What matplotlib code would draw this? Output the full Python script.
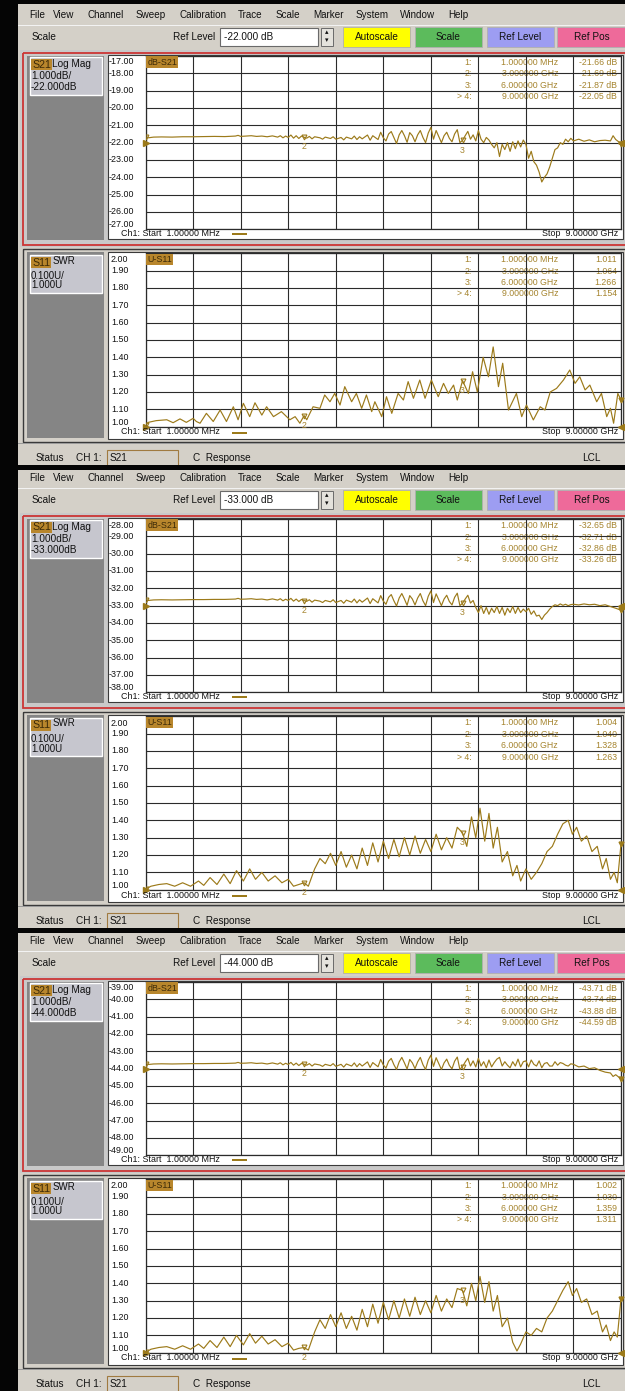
"""Recreate three stacked VNA screenshots (S21 log mag + S11 SWR)."""

import matplotlib.pyplot as plt
from matplotlib.patches import Rectangle

plt.rcParams["font.family"] = ["Liberation Sans", "DejaVu Sans"]

W, H = 625, 1391
SCREEN_TOP = [0, 463, 926]

# ---- data -------------------------------------------------------------
REF_LEVELS = [-22.0, -33.0, -44.0]
MARKER_FREQS = [0.001, 3.0, 6.0, 9.0]
MARKER_LABELS = ["1.000000 MHz", "3.000000 GHz", "6.000000 GHz", "9.000000 GHz"]
MARKER_NAMES = ["1:", "2:", "3:", "> 4:"]
S21_MARKERS = [
    [-21.66, -21.69, -21.87, -22.05],
    [-32.65, -32.71, -32.86, -33.26],
    [-43.71, -43.74, -43.88, -44.59],
]
SWR_MARKERS = [
    [1.011, 1.064, 1.266, 1.154],
    [1.004, 1.040, 1.328, 1.263],
    [1.002, 1.030, 1.359, 1.311],
]

# frequency points shared by the S21 traces (GHz)
S21_F = [0.001, 0.05, 0.15, 0.3, 0.5, 0.7, 0.9, 1.1, 1.3, 1.5, 1.7, 1.75, 1.8,
         1.9, 2.0, 2.1, 2.2, 2.3, 2.4, 2.5, 2.55, 2.6, 2.65, 2.7, 2.75, 2.8,
         2.85, 2.9, 2.95, 3.0, 3.05, 3.1, 3.15, 3.2, 3.3, 3.35, 3.4, 3.5, 3.55,
         3.6, 3.7, 3.75, 3.8, 3.9, 3.95, 4.0, 4.05, 4.1, 4.2, 4.25, 4.3, 4.4,
         4.45, 4.5, 4.55, 4.6, 4.65, 4.7, 4.75, 4.8, 4.85, 4.9, 4.95, 5.0, 5.05,
         5.1, 5.15, 5.2, 5.25, 5.3, 5.35, 5.4, 5.45, 5.5, 5.55, 5.6, 5.65, 5.7,
         5.75, 5.8, 5.85, 5.9, 5.95, 6.0, 6.05, 6.1, 6.15, 6.2, 6.25, 6.3, 6.35,
         6.4, 6.45, 6.5, 6.55, 6.6, 6.65, 6.7, 6.75, 6.8, 6.85, 6.9, 6.95, 7.0,
         7.05, 7.1, 7.15, 7.2, 7.25, 7.3, 7.35, 7.4, 7.45, 7.5, 7.55, 7.6, 7.65,
         7.7, 7.75, 7.8, 7.85, 7.9, 7.95, 8.0, 8.05, 8.1, 8.2, 8.3, 8.4, 8.5,
         8.6, 8.7, 8.8, 8.85, 8.9, 9.0]

S21_1_DB = [-21.66, -21.72, -21.68, -21.67, -21.68, -21.66, -21.66, -21.65, -21.64,
            -21.65, -21.62, -21.58, -21.64, -21.62, -21.60, -21.64, -21.62, -21.66,
            -21.61, -21.68, -21.60, -21.72, -21.62, -21.70, -21.56, -21.74, -21.60,
            -21.76, -21.62, -21.69, -21.74, -21.64, -21.78, -21.66, -21.72, -21.80,
            -21.68, -21.76, -21.66, -21.80, -21.70, -21.84, -21.68, -21.78, -21.62,
            -21.82, -21.66, -21.78, -21.56, -21.86, -21.60, -21.82, -21.40, -21.72,
            -21.90, -21.50, -21.36, -21.70, -22.05, -21.55, -21.30, -21.60, -21.98,
            -21.42, -21.60, -21.95, -21.55, -21.30, -21.70, -22.00, -21.45, -21.12,
            -21.80, -21.30, -21.65, -22.00, -21.60, -21.40, -21.75, -21.95, -21.50,
            -21.25, -22.00, -21.87, -21.60, -21.35, -21.80, -21.55, -21.90, -21.30,
            -21.80, -22.00, -21.70, -21.85, -22.10, -22.30, -22.00, -22.80, -22.10,
            -22.40, -22.00, -22.50, -21.95, -22.35, -21.90, -22.25, -21.85, -22.10,
            -22.90, -22.50, -23.10, -23.30, -23.70, -24.27, -24.00, -23.80, -23.40,
            -22.90, -22.40, -22.30, -22.00, -22.10, -21.80, -21.95, -21.75, -21.90,
            -21.80, -21.92, -21.84, -21.95, -21.88, -21.86, -21.90, -21.60, -21.82,
            -22.05]

S21_2_DB = [-32.65, -32.70, -32.67, -32.66, -32.67, -32.66, -32.65, -32.65, -32.64,
            -32.64, -32.62, -32.58, -32.63, -32.62, -32.60, -32.64, -32.62, -32.67,
            -32.61, -32.68, -32.60, -32.72, -32.63, -32.70, -32.58, -32.74, -32.62,
            -32.76, -32.64, -32.71, -32.75, -32.66, -32.80, -32.68, -32.74, -32.82,
            -32.70, -32.78, -32.66, -32.82, -32.70, -32.86, -32.68, -32.80, -32.62,
            -32.84, -32.66, -32.80, -32.56, -32.88, -32.60, -32.84, -32.42, -32.74,
            -32.92, -32.52, -32.36, -32.72, -33.02, -32.56, -32.30, -32.62, -32.98,
            -32.42, -32.62, -32.96, -32.56, -32.30, -32.72, -33.00, -32.46, -32.15,
            -32.82, -32.32, -32.66, -33.00, -32.62, -32.40, -32.76, -32.96, -32.52,
            -32.28, -33.00, -32.86, -32.62, -32.40, -32.85, -32.70, -33.10, -33.40,
            -33.00, -33.45, -33.10, -33.50, -33.15, -33.40, -33.05, -33.45, -33.10,
            -33.55, -33.15, -33.40, -33.05, -33.45, -33.10, -33.40, -33.20, -33.35,
            -33.15, -33.50, -33.30, -33.60, -33.55, -33.80, -33.55, -33.40, -33.20,
            -33.05, -32.95, -33.00, -32.90, -32.98, -32.92, -33.00, -32.94, -32.92,
            -32.96, -32.90, -32.95, -32.92, -33.00, -32.95, -33.05, -33.10, -33.15,
            -33.26]

S21_3_DB = [-43.71, -43.76, -43.73, -43.72, -43.73, -43.72, -43.71, -43.71, -43.70,
            -43.70, -43.68, -43.64, -43.69, -43.68, -43.66, -43.70, -43.68, -43.73,
            -43.67, -43.74, -43.66, -43.78, -43.69, -43.76, -43.64, -43.80, -43.68,
            -43.82, -43.70, -43.74, -43.80, -43.71, -43.85, -43.73, -43.79, -43.87,
            -43.75, -43.83, -43.71, -43.87, -43.75, -43.91, -43.73, -43.85, -43.67,
            -43.89, -43.71, -43.85, -43.61, -43.93, -43.65, -43.89, -43.47, -43.79,
            -43.97, -43.57, -43.41, -43.77, -44.05, -43.61, -43.35, -43.67, -44.02,
            -43.47, -43.67, -44.00, -43.61, -43.35, -43.77, -44.05, -43.51, -43.22,
            -43.87, -43.37, -43.71, -44.05, -43.67, -43.45, -43.81, -44.01, -43.57,
            -43.33, -44.05, -43.88, -43.62, -43.40, -43.85, -43.55, -43.90, -43.40,
            -43.85, -43.60, -43.95, -43.50, -43.90, -43.65, -43.45, -43.35, -43.85,
            -43.60, -43.80, -43.95, -43.60, -43.85, -43.45, -43.90, -43.60, -43.55,
            -43.90, -43.50, -43.75, -43.85, -43.55, -43.95, -43.70, -43.65, -43.85,
            -43.85, -43.60, -43.80, -43.65, -43.70, -43.80, -43.85, -43.72, -43.75,
            -43.90, -43.85, -44.00, -43.95, -44.10, -44.20, -44.25, -44.45, -44.35,
            -44.59]

# screen 1, S11 SWR
SWR_1_F = [0.001, 0.05, 0.2, 0.4, 0.52, 0.65, 0.77, 0.9, 0.96, 1.03, 1.15, 1.28,
           1.41, 1.53, 1.66, 1.75, 1.85, 1.97, 2.07, 2.2, 2.29, 2.42, 2.57, 2.73,
           2.83, 2.92, 3.0, 3.05, 3.17, 3.3, 3.39, 3.49, 3.58, 3.68, 3.77, 3.9,
           3.99, 4.09, 4.18, 4.28, 4.34, 4.47, 4.56, 4.66, 4.78, 4.88, 4.97, 5.07,
           5.19, 5.29, 5.41, 5.54, 5.64, 5.73, 5.83, 5.9, 6.0, 6.11, 6.19, 6.28,
           6.39, 6.49, 6.58, 6.68, 6.76, 6.87, 7.02, 7.12, 7.21, 7.34, 7.47, 7.56,
           7.66, 7.78, 7.91, 8.03, 8.13, 8.22, 8.32, 8.41, 8.54, 8.63, 8.73, 8.8,
           8.86, 8.94, 9.0]
SWR_1_V = [1.011, 1.025, 1.035, 1.040, 1.023, 1.045, 1.025, 1.048, 1.030, 1.020,
           1.077, 1.030, 1.096, 1.030, 1.115, 1.040, 1.135, 1.058, 1.138, 1.067,
           1.115, 1.058, 1.087, 1.040, 1.058, 1.020, 1.064, 1.040, 1.115, 1.106,
           1.183, 1.144, 1.192, 1.125, 1.231, 1.144, 1.192, 1.106, 1.183, 1.087,
           1.144, 1.058, 1.173, 1.077, 1.192, 1.154, 1.260, 1.164, 1.269, 1.164,
           1.269, 1.173, 1.250, 1.192, 1.240, 1.154, 1.266, 1.192, 1.317, 1.200,
           1.400, 1.288, 1.460, 1.231, 1.366, 1.096, 1.192, 1.058, 1.125, 1.039,
           1.115, 1.096, 1.200, 1.221, 1.269, 1.327, 1.250, 1.288, 1.212, 1.240,
           1.144, 1.192, 1.058, 1.106, 1.020, 1.192, 1.154]

# screens 2 and 3, S11 SWR (same frequency points)
SWR_F = [0.001, 0.1, 0.25, 0.4, 0.55, 0.7, 0.85, 1.0, 1.1, 1.22, 1.35, 1.48,
         1.6, 1.72, 1.85, 1.97, 2.08, 2.2, 2.32, 2.45, 2.58, 2.7, 2.8, 2.9, 3.0,
         3.08, 3.2, 3.3, 3.4, 3.5, 3.6, 3.7, 3.8, 3.9, 4.0, 4.1, 4.2, 4.3, 4.4,
         4.5, 4.6, 4.7, 4.8, 4.9, 5.0, 5.1, 5.2, 5.3, 5.4, 5.5, 5.6, 5.7, 5.8,
         5.9, 6.0, 6.08, 6.17, 6.25, 6.33, 6.42, 6.5, 6.58, 6.66, 6.75, 6.85,
         6.95, 7.03, 7.1, 7.2, 7.3, 7.4, 7.5, 7.6, 7.7, 7.8, 7.9, 8.0, 8.08,
         8.16, 8.25, 8.35, 8.45, 8.55, 8.65, 8.72, 8.8, 8.87, 8.93, 9.0]
SWR_2_V = [1.004, 1.020, 1.030, 1.035, 1.020, 1.040, 1.020, 1.050, 1.025, 1.070,
           1.030, 1.090, 1.035, 1.110, 1.050, 1.120, 1.060, 1.100, 1.050, 1.080,
           1.040, 1.060, 1.020, 1.030, 1.040, 1.020, 1.120, 1.180, 1.150, 1.210,
           1.140, 1.220, 1.130, 1.200, 1.120, 1.240, 1.140, 1.270, 1.160, 1.280,
           1.180, 1.290, 1.190, 1.300, 1.200, 1.310, 1.210, 1.290, 1.220, 1.320,
           1.230, 1.300, 1.240, 1.360, 1.328, 1.250, 1.420, 1.300, 1.470, 1.280,
           1.440, 1.240, 1.360, 1.160, 1.220, 1.080, 1.140, 1.050, 1.120, 1.060,
           1.100, 1.150, 1.220, 1.250, 1.320, 1.380, 1.400, 1.320, 1.360, 1.280,
           1.310, 1.220, 1.250, 1.120, 1.180, 1.060, 1.100, 1.040, 1.263]
SWR_3_V = [1.002, 1.020, 1.030, 1.035, 1.020, 1.040, 1.020, 1.050, 1.025, 1.070,
           1.030, 1.090, 1.035, 1.100, 1.045, 1.110, 1.055, 1.095, 1.050, 1.075,
           1.035, 1.055, 1.015, 1.025, 1.030, 1.015, 1.120, 1.190, 1.140, 1.220,
           1.150, 1.230, 1.140, 1.210, 1.130, 1.250, 1.150, 1.280, 1.170, 1.290,
           1.190, 1.300, 1.200, 1.310, 1.210, 1.320, 1.220, 1.300, 1.230, 1.330,
           1.240, 1.310, 1.260, 1.370, 1.359, 1.270, 1.400, 1.300, 1.440, 1.290,
           1.410, 1.240, 1.330, 1.150, 1.200, 1.060, 1.010, 1.050, 1.120, 1.100,
           1.140, 1.120, 1.200, 1.240, 1.300, 1.360, 1.410, 1.330, 1.370, 1.290,
           1.310, 1.220, 1.240, 1.120, 1.160, 1.070, 1.120, 1.090, 1.311]

S21_TRACES = [(S21_F, S21_1_DB), (S21_F, S21_2_DB), (S21_F, S21_3_DB)]
SWR_TRACES = [(SWR_1_F, SWR_1_V), (SWR_F, SWR_2_V), (SWR_F, SWR_3_V)]

MENU_ITEMS = ["File", "View", "Channel", "Sweep", "Calibration", "Trace",
              "Scale", "Marker", "System", "Window", "Help"]
BUTTONS = ["Autoscale", "Scale", "Ref Level", "Ref Pos"]

# ---- styling ------------------------------------------------------------
TRACE = "#9c7a1a"
GOLD = "#b8862c"
GOLD_TEXT = "#3c2a08"
MARK_TEXT = "#a5842e"
GRID = "#2b2b2b"
UI_BG = "#d4d0c8"
DARK_PANEL = "#858585"
LABEL_BOX = "#c6c6ce"
BUTTON_COLORS = ["#ffff00", "#5cbb5c", "#9d9df2", "#ee6a9a"]
MENU_X = [29, 53, 88, 136, 179, 238, 276, 313, 356, 400, 448]
BUTTON_X = [(343, 410), (415, 482), (487, 554), (557, 626)]

GX0, GX1 = 145.7, 621.0

fig = plt.figure(figsize=(W / 100, H / 100), dpi=100)
bg = fig.add_axes([0, 0, 1, 1])
bg.set_xlim(0, W)
bg.set_ylim(H, 0)
bg.axis("off")


def box(x0, y0, x1, y1, fc, ec="none", lw=0.0, fill=True):
    bg.add_patch(Rectangle((x0, y0), x1 - x0, y1 - y0, facecolor=fc,
                           edgecolor=ec, linewidth=lw, fill=fill))


def txt(x, y, s, size=7.0, color="#111111", ha="left", **kw):
    fig.text(x / W, 1 - y / H, s, fontsize=size, color=color, ha=ha,
             va="center", **kw)


def panel_axes(x0, y0, x1, y1):
    return fig.add_axes([x0 / W, 1 - y1 / H, (x1 - x0) / W, (y1 - y0) / H])


def draw_grid_axes(t, y0, y1, lo, hi, freqs, vals, mvals, ref, mfmt, label):
    ax = panel_axes(GX0, t + y0, GX1, t + y1)
    ax.set_facecolor("none")
    ax.set_xlim(0.001, 9.0)
    ax.set_ylim(lo, hi)
    ax.set_xticks([0.001 + i * 0.8999 for i in range(11)])
    ax.set_yticks([lo + i * (hi - lo) / 10 for i in range(11)])
    ax.tick_params(length=0, labelbottom=False, labelleft=False)
    ax.grid(True, color=GRID, lw=0.8)
    for s in ax.spines.values():
        s.set_color(GRID)
        s.set_linewidth(0.9)

    ax.plot(freqs, vals, color=TRACE, lw=0.85, zorder=3)
    # markers
    ax.plot(MARKER_FREQS[:3], mvals[:3], ls="none", marker="v", ms=3.5,
            mfc="none", mec=TRACE, mew=0.8, zorder=4)
    ax.plot(MARKER_FREQS[3:], mvals[3:], ls="none", marker="v", ms=3.5,
            color=TRACE, zorder=4, clip_on=False)
    for k in (1, 2):
        ax.annotate(str(k + 1), (MARKER_FREQS[k], mvals[k]), xytext=(0, -7),
                    textcoords="offset points", ha="center", va="center",
                    fontsize=6.3, color=MARK_TEXT)
    # reference pointers
    ax.plot([0.0], [ref], ls="none", marker=">", ms=4, color=TRACE,
            clip_on=False, zorder=5)
    ax.plot([9.0], [ref], ls="none", marker="<", ms=4, color=TRACE,
            clip_on=False, zorder=5)

    # marker readout table (under grid lines, like the instrument)
    rows = [t + y0 + 6.3, t + y0 + 18.0, t + y0 + 29.3, t + y0 + 40.7]
    for name, flab, mv, ry in zip(MARKER_NAMES, MARKER_LABELS, mvals, rows):
        for x, s in ((472, name), (558, flab), (617, mfmt(mv))):
            ax.text(x, ry, s, transform=bg.transData, ha="right", va="center",
                    fontsize=6.3, color=MARK_TEXT, zorder=1)
    # trace label box
    ax.text(GX0 + 1.5, t + y0 + 6.3, label, transform=bg.transData, ha="left",
            va="center", fontsize=6.4, color=GOLD_TEXT, zorder=6,
            bbox=dict(boxstyle="square,pad=0.15", fc=GOLD, ec="none"))
    return ax


bg.add_patch(Rectangle((0, 0), W, H, facecolor=UI_BG, edgecolor="none"))
box(0, 0, 18, H, "#050505")

for i, t in enumerate(SCREEN_TOP):
    ref = REF_LEVELS[i]
    # separator + menu bar
    if i == 0:
        box(0, 0, W, 4, "#050505")
        box(18, 4, W, t + 25, UI_BG)
    else:
        box(0, t + 2, W, t + 7, "#050505")
        box(18, t + 7, W, t + 25, UI_BG)
    for name, x in zip(MENU_ITEMS, MENU_X):
        txt(x, t + 15.5, name, size=7.1)
    box(18, t + 25, W, t + 25.8, "#f2f2f2")

    # toolbar
    txt(32, t + 37, "Scale", size=7.2)
    txt(215, t + 37, "Ref Level", size=7.2, ha="right")
    box(220, t + 28, 318, t + 46, "white", ec="#6a6a6a", lw=0.8)
    txt(224, t + 37, f"{ref:.3f} dB", size=7.2)
    box(321, t + 28, 333, t + 46, "#e4e2dc", ec="#6a6a6a", lw=0.7)
    txt(327, t + 33, "\u25b4", size=5, ha="center")
    txt(327, t + 41, "\u25be", size=5, ha="center")
    for name, (x0, x1), c in zip(BUTTONS, BUTTON_X, BUTTON_COLORS):
        box(x0, t + 27, x1, t + 47, c, ec="#b0b0b0", lw=0.6)
        txt((x0 + x1) / 2, t + 37, name, size=7.2, ha="center")

    # --- window 1 (S21, active) ---
    box(20, t + 50, W, t + 247, "#c9c9c9")
    box(23, t + 52.5, W + 3, t + 244.5, "none", ec="#cc3535", lw=1.3, fill=False)
    box(27, t + 56, 104, t + 240, DARK_PANEL)
    box(30, t + 57, 102, t + 95, LABEL_BOX, ec="white", lw=1.0)
    box(108, t + 55, 623, t + 239, "white", ec="#3a3a3a", lw=0.8)
    txt(32, t + 64.5, "S21", size=7.6, color=GOLD_TEXT,
        bbox=dict(boxstyle="square,pad=0.08", fc=GOLD, ec="none"))
    txt(52.5, t + 64, "Log Mag", size=7.2)
    txt(31, t + 76, "1.000dB/", size=7.2)
    txt(31, t + 86.7, f"{ref:.3f}dB", size=7.2)

    top = ref + 5
    for k in range(11):
        y = t + 56 + k * 17.33
        if k == 0:
            y += 6
        elif k == 10:
            y -= 4.5
        txt(109, y, f"{top - k:.2f}", size=6.4)
    txt(121, t + 233.3, "Ch1: Start  1.00000 MHz", size=6.4)
    box(232, t + 233.3, 247, t + 234.6, TRACE)
    txt(618.5, t + 233.3, "Stop  9.00000 GHz", size=6.4, ha="right")

    f, v = S21_TRACES[i]
    draw_grid_axes(t, 56, 229.3, ref - 5, ref + 5, f, v, S21_MARKERS[i], ref,
                   lambda m: f"{m:.2f} dB", "dB-S21")

    # --- window 2 (S11 SWR) ---
    box(23, t + 248.5, W + 3, t + 442, "none", ec="#3a3a3a", lw=1.0, fill=False)
    box(27, t + 252, 104, t + 438, DARK_PANEL)
    box(30, t + 255, 102, t + 293, LABEL_BOX, ec="white", lw=1.0)
    box(108, t + 251.5, 623, t + 438.5, "white", ec="#3a3a3a", lw=0.8)
    txt(32, t + 262.5, "S11", size=7.6, color=GOLD_TEXT,
        bbox=dict(boxstyle="square,pad=0.08", fc=GOLD, ec="none"))
    txt(52.5, t + 260.5, "SWR", size=7.0)
    txt(31, t + 276.2, "0.100U/", size=7.0)
    txt(31, t + 285.5, "1.000U", size=7.0)
    for k in range(11):
        y = t + 253.3 + k * 17.33
        if k == 0:
            y += 6.7
        elif k == 10:
            y -= 3.7
        txt(111, y, f"{2.0 - k * 0.1:.2f}", size=6.4)
    txt(121, t + 432, "Ch1: Start  1.00000 MHz", size=6.4)
    box(232, t + 432.3, 247, t + 433.6, TRACE)
    txt(618.5, t + 432, "Stop  9.00000 GHz", size=6.4, ha="right")

    f, v = SWR_TRACES[i]
    draw_grid_axes(t, 253.3, 426.7, 1.0, 2.0, f, v, SWR_MARKERS[i], 1.0,
                   lambda m: f"{m:.3f}", "U-S11")

    # status bar
    box(18, t + 443, W, t + 444, "#9a9a9a")
    box(18, t + 445, W, t + 465, UI_BG)
    txt(36, t + 458, "Status", size=7.2)
    txt(76, t + 458, "CH 1:", size=7.2)
    box(107, t + 450, 178, t + 466, UI_BG, ec="#a07a40", lw=0.8)
    txt(110, t + 458, "S21", size=7.2)
    txt(193, t + 458, "C  Response", size=7.2)
    txt(582, t + 458, "LCL", size=7.2)

fig.savefig("out.png", dpi=100)
